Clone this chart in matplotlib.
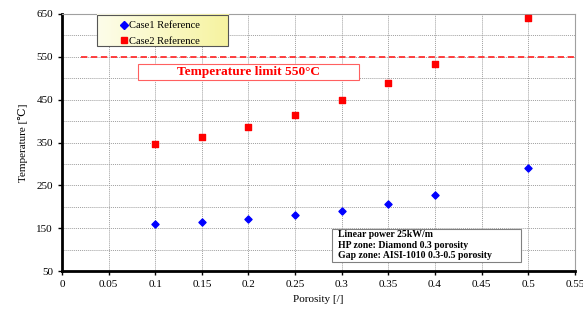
import numpy as np
import matplotlib.pyplot as plt
from matplotlib.lines import Line2D
from matplotlib.patches import Rectangle

porosity = [0.1, 0.15, 0.2, 0.25, 0.3, 0.35, 0.4, 0.5]
case1_temp = [160, 164, 171, 181, 190, 206, 227, 290]
case2_temp = [346, 363, 386, 414, 449, 489, 533, 640]
temp_limit = 550

plt.rcParams['font.family'] = ['Liberation Serif', 'DejaVu Serif']

fig = plt.figure(figsize=(5.83, 3.11), dpi=100)
ax = fig.add_axes([0.1063, 0.1286, 0.8797, 0.8264])

# data
ax.scatter(porosity, case1_temp, marker='D', s=13, color='#0000ff', zorder=3)
ax.scatter(porosity, case2_temp, marker='s', s=17, color='#ff0000', zorder=3)

# temperature limit
ax.plot([0.02, 0.55], [temp_limit, temp_limit], color='#ff3030', linestyle=(0, (3.5, 2)),
        linewidth=1.3, zorder=2)

ax.set_xlim(0, 0.55)
ax.set_ylim(50, 650)
ax.set_xticks(np.arange(0, 0.551, 0.05))
ax.set_xticklabels(['0', '0.05', '0.1', '0.15', '0.2', '0.25', '0.3', '0.35',
                    '0.4', '0.45', '0.5', '0.55'])
ax.set_yticks(np.arange(50, 651, 100))
ax.set_yticks(np.arange(100, 651, 100), minor=True)
ax.tick_params(axis='both', labelsize=8, length=3, width=1, direction='out')
ax.tick_params(axis='y', which='minor', length=0)

ax.grid(True, which='both', color='#a0a0a0', linestyle=(0, (1, 1)), linewidth=0.7)
ax.set_axisbelow(True)

for s in ['top', 'right']:
    ax.spines[s].set_color('#a0a0a0')
    ax.spines[s].set_linewidth(0.8)
for s in ['left', 'bottom']:
    ax.spines[s].set_linewidth(2)

ax.set_xlabel('Porosity [/]', fontsize=8, labelpad=4)
ax.set_ylabel('Temperature [\u2103]', fontsize=8, labelpad=6)

# legend box with a light yellow gradient
grad = np.linspace(0, 1, 64).reshape(1, -1)
ax.imshow(grad, extent=(0.0375, 0.178, 575, 648), aspect='auto', zorder=4,
          cmap=plt.matplotlib.colors.LinearSegmentedColormap.from_list(
              'yel', ['#fdfdea', '#f6f3a0']))
ax.add_patch(Rectangle((0.0375, 575), 0.1405, 73, facecolor='none',
                       edgecolor='#555555', linewidth=0.8, zorder=5))
handles = [Line2D([], [], marker='D', color='#0000ff', linestyle='none', markersize=4),
           Line2D([], [], marker='s', color='#ff0000', linestyle='none', markersize=4.5)]
leg = ax.legend(handles, ['Case1 Reference', 'Case2 Reference'], loc='upper left',
                bbox_to_anchor=(0.104, 0.985), fontsize=7.6, frameon=False,
                handletextpad=0.0, handlelength=1.0, borderpad=0.3, labelspacing=0.6,
                borderaxespad=0)
leg.set_zorder(6)

# limit label
ax.add_patch(Rectangle((0.0815, 496), 0.237, 37, facecolor='white',
                       edgecolor='#ff6060', linewidth=0.8, zorder=4))
ax.text(0.2, 514.5, 'Temperature limit 550°C', fontsize=9.6,
        fontweight='bold', color='#ff0000', va='center', ha='center', zorder=5)

# case info
ax.add_patch(Rectangle((0.2895, 71), 0.2025, 77, facecolor='white',
                       edgecolor='#808080', linewidth=0.8, zorder=4))
ax.text(0.296, 110,
        'Linear power 25kW/m\nHP zone: Diamond 0.3 porosity\nGap zone: AISI-1010 0.3-0.5 porosity',
        fontsize=7, fontweight='bold', va='center', ha='left',
        linespacing=1.2, zorder=5)

ax.set_xlim(0, 0.55)
ax.set_ylim(50, 650)

fig.savefig('out.png', dpi=100)
plt.close(fig)
